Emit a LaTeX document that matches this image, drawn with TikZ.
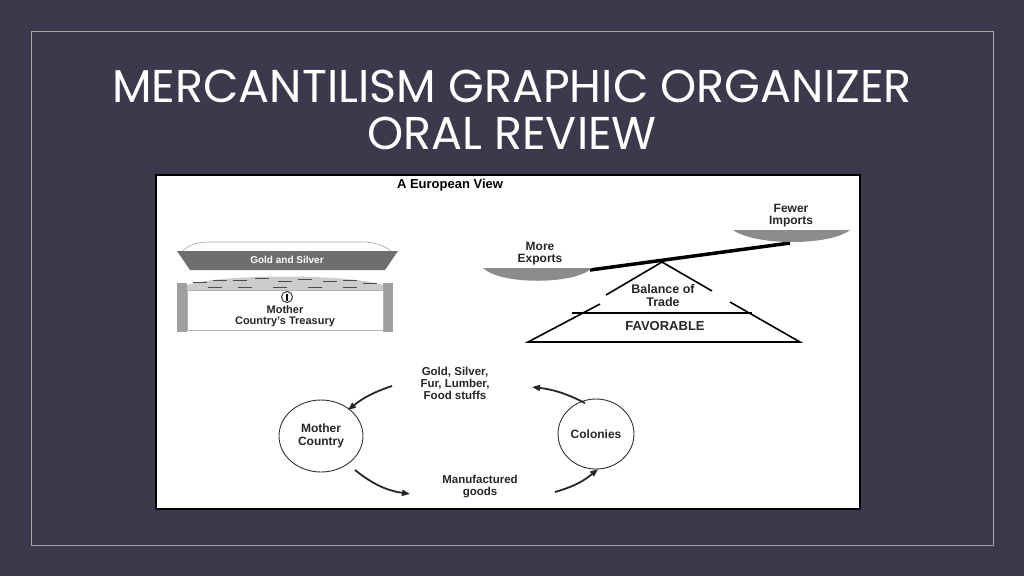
\documentclass[tikz,border=0pt]{standalone}
\usepackage{fontspec}
\setmainfont{Liberation Sans}
\newfontfamily\titlefont{Poppins}
\usetikzlibrary{arrows.meta}
\definecolor{bg}{HTML}{3A3A4C}
\definecolor{pan}{HTML}{8C8C8C}
\definecolor{lidg}{HTML}{6E6E6E}
\tikzset{
  lbl/.style={font=\bfseries\fontsize{11}{11.5}\selectfont, text=black!85, align=center, inner sep=0pt},
  cyc/.style={draw=black!80, line width=0.9pt, ellipse},
  arr/.style={-{Triangle[length=8pt,width=6pt]}, line width=1.8pt, black!85}
}
\usetikzlibrary{shapes.geometric}
\begin{document}
\begin{tikzpicture}[x=1pt,y=-1pt]
\useasboundingbox (0,0) rectangle (1024,576);
\fill[bg] (0,0) rectangle (1024,576);
\draw[gray!70, line width=0.6pt] (31,31) rectangle (993,545);
\node[text=white, font=\titlefont\fontsize{46}{47}\selectfont, align=center] (title) at (512,110) {MERCANTILISM GRAPHIC ORGANIZER\\ORAL REVIEW};
% image panel
\draw[fill=white, draw=black, line width=2.5pt] (156,175) rectangle (860,509);
\node[font=\bfseries\fontsize{13}{13}\selectfont] (head) at (450,185) {A European View};
% chest
\draw[gray!70, fill=white, line width=0.6pt] (182,252) .. controls (190,243) and (200,242) .. (212,242) -- (362,242) .. controls (374,242) and (384,245) .. (392,252) -- cycle;
\fill[lidg] (177,251) -- (398,251) -- (385,270) -- (190,270) -- cycle;
\node[text=white, font=\bfseries\fontsize{10}{10}\selectfont] (gs) at (287,260) {Gold and Silver};
\fill[gray!40] (178,290) .. controls (190,272) and (380,272) .. (392,290) -- cycle;
\foreach \x/\y in {200/282,220/280,240/280,262/278,285/281,305/279,330/281,350/280,370/283,215/287,245/287,280/287,315/287,350/287}{
  \draw[black!70, line width=1pt] (\x-7,\y) -- (\x+7,\y);
}
\fill[gray!75] (177,283) rectangle (187,332);
\fill[gray!75] (383,283) rectangle (393,332);
\draw[gray!60, fill=white] (187,290) rectangle (383,330);
\draw[black!80, line width=1pt] (287,297) circle (5.5);
\fill[black] (286,293.5) rectangle (288,300.5);
\node[lbl] (treasury) at (285,316) {Mother\\Country's Treasury};
% scale
\coordinate (pivot) at (662,262);
\coordinate (lp) at (590,270);
\coordinate (rp) at (790,243);
\draw[line width=3.5pt] (lp) -- (rp);
\fill[pan] (483,268) .. controls (500,285) and (575,285) .. (592,268) -- cycle;
\fill[pan] (733,230) .. controls (755,246) and (830,246) .. (850,230) -- cycle;
\node[lbl, font=\bfseries\fontsize{12}{12}\selectfont] (exp) at (540,254) {More\\Exports};
\node[lbl, font=\bfseries\fontsize{12}{12}\selectfont] (imp) at (791,216) {Fewer\\Imports};
\draw[line width=1.6pt] (pivot) -- (606,295);
\draw[line width=1.6pt] (pivot) -- (712,291);
\draw[line width=1.6pt] (600,304) -- (528,342) -- (800,342) -- (730,302);
\draw[line width=1.2pt] (572,313) -- (752,313);
\node[lbl, font=\bfseries\fontsize{12.5}{13}\selectfont] (bal) at (663,296) {Balance of\\Trade};
\node[lbl, font=\bfseries\fontsize{13}{13}\selectfont] (fav) at (665,326) {FAVORABLE};
% cycle
\node[cyc, minimum width=84pt, minimum height=72pt, lbl, font=\bfseries\fontsize{12}{12.5}\selectfont] (mc) at (321,436) {Mother\\Country};
\node[cyc, minimum width=76pt, minimum height=70pt, lbl, font=\bfseries\fontsize{12}{12.5}\selectfont] (col) at (596,434) {Colonies};
\node[lbl, font=\bfseries\fontsize{11.5}{12}\selectfont] (raw) at (455,383) {Gold, Silver,\\Fur, Lumber,\\Food stuffs};
\node[lbl, font=\bfseries\fontsize{11.5}{12}\selectfont] (man) at (480,487) {Manufactured\\goods};
\coordinate (a1) at (585,403);
\coordinate (a2) at (532,387);
\coordinate (b1) at (392,386);
\coordinate (b2) at (348,410);
\coordinate (c1) at (355,470);
\coordinate (c2) at (410,494);
\coordinate (d1) at (555,492);
\coordinate (d2) at (598,469);
\draw[arr] (a1) to[bend right=10] (a2);
\draw[arr] (b1) to[bend right=10] (b2);
\draw[arr] (c1) to[bend right=15] (c2);
\draw[arr] (d1) to[bend right=12] (d2);
\end{tikzpicture}
\end{document}
